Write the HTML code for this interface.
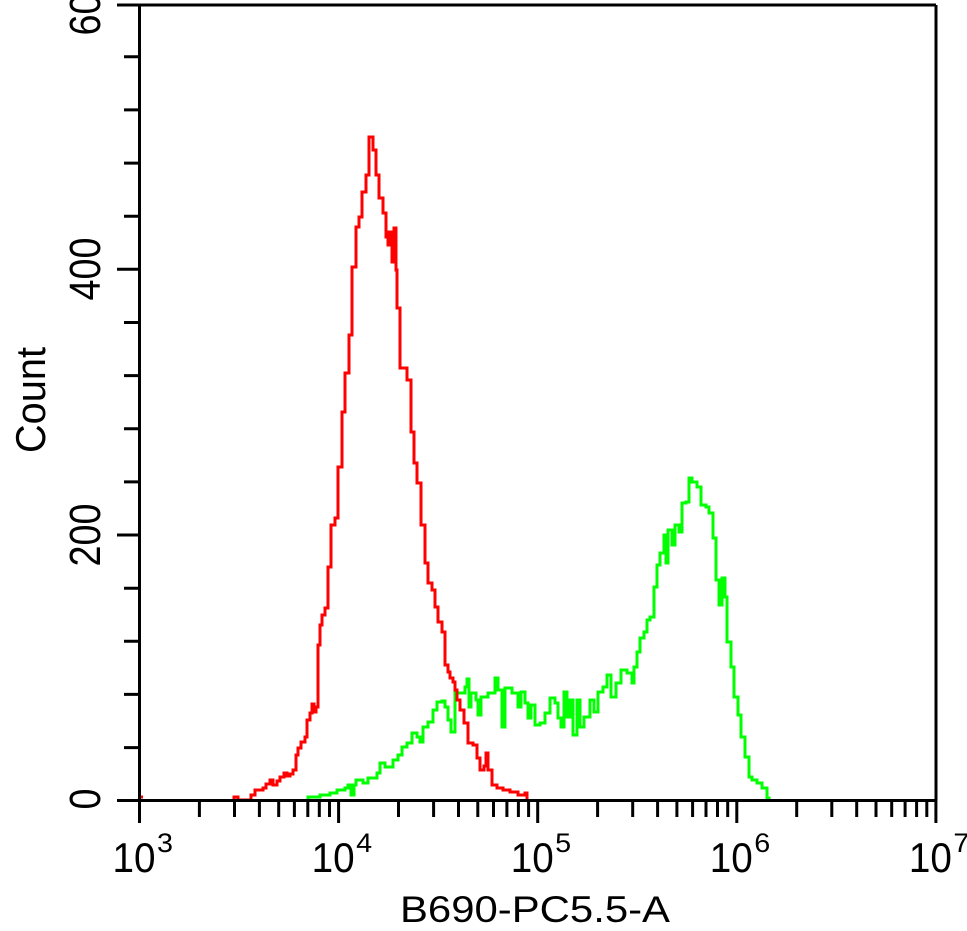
<!DOCTYPE html>
<html>
<head>
<meta charset="utf-8">
<style>
html,body{margin:0;padding:0;background:#fff;}
svg{display:block;}
text{font-family:"Liberation Sans",sans-serif;fill:#000;}
</style>
</head>
<body>
<svg width="967" height="931" viewBox="0 0 967 931" xmlns="http://www.w3.org/2000/svg">
<rect x="0" y="0" width="967" height="931" fill="#fff"/>

<!-- green histogram -->
<path fill="none" stroke="#00ff00" stroke-width="3" stroke-linejoin="miter" d="M308 800 V797 H320 V795 H330 V793 H337 V790 H345 V788 H348 V785 H351 V795 H354 V785 H356 V780 H363 V783 H368 V778 H377 V773 H380 V763 H385 V767 H393 V760 H398 V755 H402 V747 H407 V743 H412 V733 H417 V737 H420 V742 H423 V727 H428 V722 H433 V710 H437 V702 H442 V701 H445 V707 H448 V720 H451 V732 H455 V693 H460 V693 H465 V687 H467 V679 H469 V707 H471 V693 H476 V700 H478 V715 H481 V697 H488 V693 H495 V678 H498 V690 H502 V727 H505 V688 H512 V693 H518 V707 H521 V692 H525 V703 H528 V718 H531 V705 H535 V725 H540 V723 H545 V713 H550 V698 H555 V703 H558 V718 H561 V727 H564 V692 H567 V717 H570 V700 H573 V735 H577 V700 H580 V727 H584 V717 H590 V700 H594 V712 H598 V692 H603 V687 H607 V675 H611 V697 H616 V683 H621 V670 H627 V673 H632 V683 H634 V667 H637 V652 H640 V638 H644 V632 H647 V620 H650 V617 H654 V587 H657 V565 H660 V553 H664 V535 H666 V563 H668 V530 H672 V545 H675 V525 H679 V532 H682 V503 H686 V502 H689 V478 H692 V482 H697 V487 H701 V505 H706 V507 H709 V513 H713 V538 H716 V580 H719 V605 H722 V578 H725 V597 H727 V642 H731 V667 H734 V697 H738 V715 H741 V737 H745 V757 H749 V777 H752 V780 H757 V783 H762 V788 H767 V798 H769 V800"/>

<!-- red histogram -->
<path fill="none" stroke="#ff0000" stroke-width="3" d="M141 797 H143"/>
<path fill="none" stroke="#ff0000" stroke-width="3" stroke-linejoin="miter" d="M234 800 V797 H238 V800 H251 V795 H255 V790 H263 V788 H266 V784 H270 V780 H273 V785 H277 V781 H280 V777 H284 V773 H287 V776 H290 V774 H293 V770 H296 V755 H298 V748 H301 V742 H305 V737 H307 V720 H310 V713 H312 V704 H314 V712 H316 V707 H318 V645 H320 V625 H322 V615 H325 V608 H328 V567 H331 V525 H335 V518 H338 V467 H342 V412 H345 V373 H349 V335 H352 V267 H356 V227 H359 V217 H362 V192 H366 V175 H369 V137 H373 V150 H376 V175 H379 V198 H383 V213 H386 V237 H388 V245 H389 V232 H392 V262 H394 V228 H396 V270 H397 V308 H400 V368 H407 V380 H411 V432 H414 V463 H417 V483 H421 V525 H425 V563 H428 V583 H432 V590 H435 V607 H438 V622 H442 V632 H445 V665 H448 V672 H450 V678 H453 V682 H455 V690 H457 V700 H460 V710 H464 V723 H468 V743 H473 V745 H477 V758 H480 V770 H484 V766 H486 V753 H488 V770 H492 V785 H497 V788 H503 V790 H510 V792 H518 V795 H525 V793 H527 V800"/>

<!-- frame -->
<g stroke="#000" stroke-width="3" fill="none">
<path d="M139.5 5 V800.5"/>
<path d="M117 5 H936"/>
<path d="M936 5 V800.5"/>
<path d="M117 800.5 H936"/>
<!-- y major ticks -->
<path d="M117 535 H139 M117 269.3 H139"/>
<!-- y minor ticks -->
<path d="M124 747.6 H139 M124 694.4 H139 M124 641.3 H139 M124 588.2 H139 M124 481.9 H139 M124 428.8 H139 M124 375.6 H139 M124 322.5 H139 M124 216.2 H139 M124 163.1 H139 M124 109.9 H139 M124 56.8 H139"/>
<!-- x major ticks -->
<path d="M139.5 800 V823 M338.6 800 V823 M537.7 800 V823 M736.8 800 V823 M935.9 800 V823"/>
<!-- x minor ticks -->
<path d="
M199.4 800 V817 M234.5 800 V817 M259.4 800 V817 M278.7 800 V817 M294.4 800 V817 M307.8 800 V817 M319.3 800 V817 M329.5 800 V817
M398.5 800 V817 M433.6 800 V817 M458.5 800 V817 M477.8 800 V817 M493.5 800 V817 M506.9 800 V817 M518.4 800 V817 M528.6 800 V817
M597.6 800 V817 M632.7 800 V817 M657.6 800 V817 M676.9 800 V817 M692.6 800 V817 M706.0 800 V817 M717.5 800 V817 M727.7 800 V817
M796.7 800 V817 M831.8 800 V817 M856.7 800 V817 M876.0 800 V817 M891.7 800 V817 M905.1 800 V817 M916.6 800 V817 M926.8 800 V817"/>
</g>

<!-- y tick labels -->
<g font-size="44">
<text transform="translate(100,799) rotate(-90)" text-anchor="middle" textLength="21" lengthAdjust="spacingAndGlyphs">0</text>
<text transform="translate(100,535) rotate(-90)" text-anchor="middle" textLength="63" lengthAdjust="spacingAndGlyphs">200</text>
<text transform="translate(100,269) rotate(-90)" text-anchor="middle" textLength="63" lengthAdjust="spacingAndGlyphs">400</text>
<text transform="translate(100,4) rotate(-90)" text-anchor="middle" textLength="63" lengthAdjust="spacingAndGlyphs">600</text>
</g>
<text transform="translate(45,400) rotate(-90)" text-anchor="middle" font-size="42" textLength="106" lengthAdjust="spacingAndGlyphs">Count</text>

<!-- x tick labels -->
<g font-size="42">
<text x="112.5" y="872" textLength="43" lengthAdjust="spacingAndGlyphs">10</text>
<text x="311.6" y="872" textLength="43" lengthAdjust="spacingAndGlyphs">10</text>
<text x="510.7" y="872" textLength="43" lengthAdjust="spacingAndGlyphs">10</text>
<text x="709.8" y="872" textLength="43" lengthAdjust="spacingAndGlyphs">10</text>
<text x="908.9" y="872" textLength="43" lengthAdjust="spacingAndGlyphs">10</text>
</g>
<g font-size="27">
<text x="157" y="852" textLength="16" lengthAdjust="spacingAndGlyphs">3</text>
<text x="356.1" y="852" textLength="16" lengthAdjust="spacingAndGlyphs">4</text>
<text x="555.2" y="852" textLength="16" lengthAdjust="spacingAndGlyphs">5</text>
<text x="754.3" y="852" textLength="16" lengthAdjust="spacingAndGlyphs">6</text>
<text x="953.4" y="852" textLength="16" lengthAdjust="spacingAndGlyphs">7</text>
</g>

<!-- x axis label -->
<text x="400" y="922" font-size="37" textLength="270" lengthAdjust="spacingAndGlyphs">B690-PC5.5-A</text>
</svg>
</body>
</html>
